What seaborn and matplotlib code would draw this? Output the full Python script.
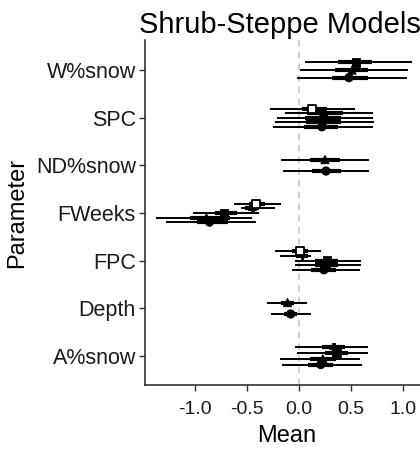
import matplotlib
matplotlib.use("Agg")
import matplotlib.pyplot as plt
import seaborn as sns
import pandas as pd
import numpy as np

# ---- data ----
params = ["W%snow", "SPC", "ND%snow", "FWeeks", "FPC", "Depth", "A%snow"]

row_param = ["W%snow"] * 3 + ["SPC"] * 5 + ["ND%snow"] * 2 + ["FWeeks"] * 5 + \
            ["FPC"] * 5 + ["Depth"] * 2 + ["A%snow"] * 4
row_model = ["M3", "M4", "M5",
             "M1", "M2", "M3", "M4", "M5",
             "M4", "M5",
             "M1", "M2", "M3", "M4", "M5",
             "M1", "M2", "M3", "M4", "M5",
             "M4", "M5",
             "M2", "M3", "M4", "M5"]
mean = [0.55, 0.51, 0.48,
        0.13, 0.22, 0.23, 0.23, 0.22,
        0.25, 0.26,
        -0.41, -0.45, -0.72, -0.89, -0.86,
        0.01, 0.03, 0.27, 0.27, 0.24,
        -0.11, -0.08,
        0.33, 0.36, 0.23, 0.21]
lo95 = [0.06, 0.01, -0.02,
        -0.28, -0.13, -0.21, -0.23, -0.25,
        -0.17, -0.15,
        -0.62, -0.56, -1.02, -1.37, -1.28,
        -0.23, -0.18, -0.04, -0.04, -0.07,
        -0.31, -0.27,
        -0.04, -0.02, -0.18, -0.16]
hi95 = [1.09, 1.05, 1.04,
        0.54, 0.71, 0.71, 0.72, 0.71,
        0.67, 0.67,
        -0.17, -0.23, -0.38, -0.45, -0.41,
        0.21, 0.12, 0.60, 0.60, 0.59,
        0.08, 0.12,
        0.66, 0.66, 0.59, 0.61]
lo50 = [0.38, 0.35, 0.32,
        0.03, 0.08, 0.06, 0.07, 0.05,
        0.11, 0.13,
        -0.48, -0.52, -0.81, -1.05, -0.98,
        -0.07, -0.03, 0.15, 0.15, 0.12,
        -0.17, -0.14,
        0.22, 0.25, 0.11, 0.09]
hi50 = [0.70, 0.66, 0.66,
        0.27, 0.42, 0.40, 0.40, 0.38,
        0.39, 0.40,
        -0.33, -0.38, -0.60, -0.66, -0.68,
        0.09, 0.09, 0.38, 0.38, 0.36,
        -0.05, -0.02,
        0.44, 0.47, 0.36, 0.33]
xticks = [-1.0, -0.5, 0.0, 0.5, 1.0]

df = pd.DataFrame({"Parameter": row_param, "Model": row_model, "Mean": mean,
                   "lo95": lo95, "hi95": hi95, "lo50": lo50, "hi50": hi50})

# dodge rows within each parameter (like position_dodge)
center = {p: len(params) - i for i, p in enumerate(params)}
dodge_w = 0.48
ypos = []
for p, g in df.groupby("Parameter", sort=False):
    n = len(g)
    for k in range(n):
        ypos.append(center[p] + ((n - 1) / 2 - k) * dodge_w / n)
df["y"] = ypos

# ---- figure ----
sns.set_theme(style="white")
plt.rcParams["font.family"] = ["Liberation Sans", "DejaVu Sans"]

fig = plt.figure(figsize=(4.2, 4.53), dpi=100)
ax = fig.add_axes([145 / 420, 68 / 453, 284 / 420, 345 / 453])

ax.axvline(0, color="#c8c8c8", lw=1.2, ls=(0, (4, 3)), zorder=0)
ax.hlines(df["y"], df["lo95"], df["hi95"], color="black", lw=1.4, zorder=2)
ax.hlines(df["y"], df["lo50"], df["hi50"], color="black", lw=3.0, zorder=3)

markers = {"M1": "s", "M2": "P", "M3": "s", "M4": "^", "M5": "o"}
sns.scatterplot(data=df[df["Model"] != "M1"], x="Mean", y="y", style="Model",
                markers={k: v for k, v in markers.items() if k != "M1"},
                color="black", edgecolor="black", s=36, linewidth=0.6,
                legend=False, ax=ax, zorder=4)
sns.scatterplot(data=df[df["Model"] == "M1"], x="Mean", y="y",
                marker="s", facecolor="white", edgecolor="black", s=34,
                linewidth=1.3, legend=False, ax=ax, zorder=5)

ax.set_xlim(-1.48, 1.25)
ax.set_ylim(0.39, 7.63)
ax.set_xticks(xticks)
ax.set_xticklabels([f"{t:.1f}" for t in xticks])
ax.set_yticks([center[p] for p in params])
ax.set_yticklabels(params)

for s in ["top", "right"]:
    ax.spines[s].set_visible(False)
for s in ["left", "bottom"]:
    ax.spines[s].set_color("#222222")
    ax.spines[s].set_linewidth(1.1)
ax.tick_params(axis="both", direction="out", length=4.5, width=1.0,
               color="#333333", labelcolor="#1a1a1a", left=True, bottom=True)
ax.tick_params(axis="x", labelsize=14, pad=7)
ax.tick_params(axis="y", labelsize=15.5, pad=2)
ax.set_xlabel("Mean", fontsize=17, color="black", labelpad=5)
ax.set_ylabel("Parameter", fontsize=17, color="black", labelpad=6)
ax.set_title("Shrub-Steppe Models", fontsize=21, loc="left", pad=5,
             x=-0.02, color="black")

fig.savefig("out.png", dpi=100)
